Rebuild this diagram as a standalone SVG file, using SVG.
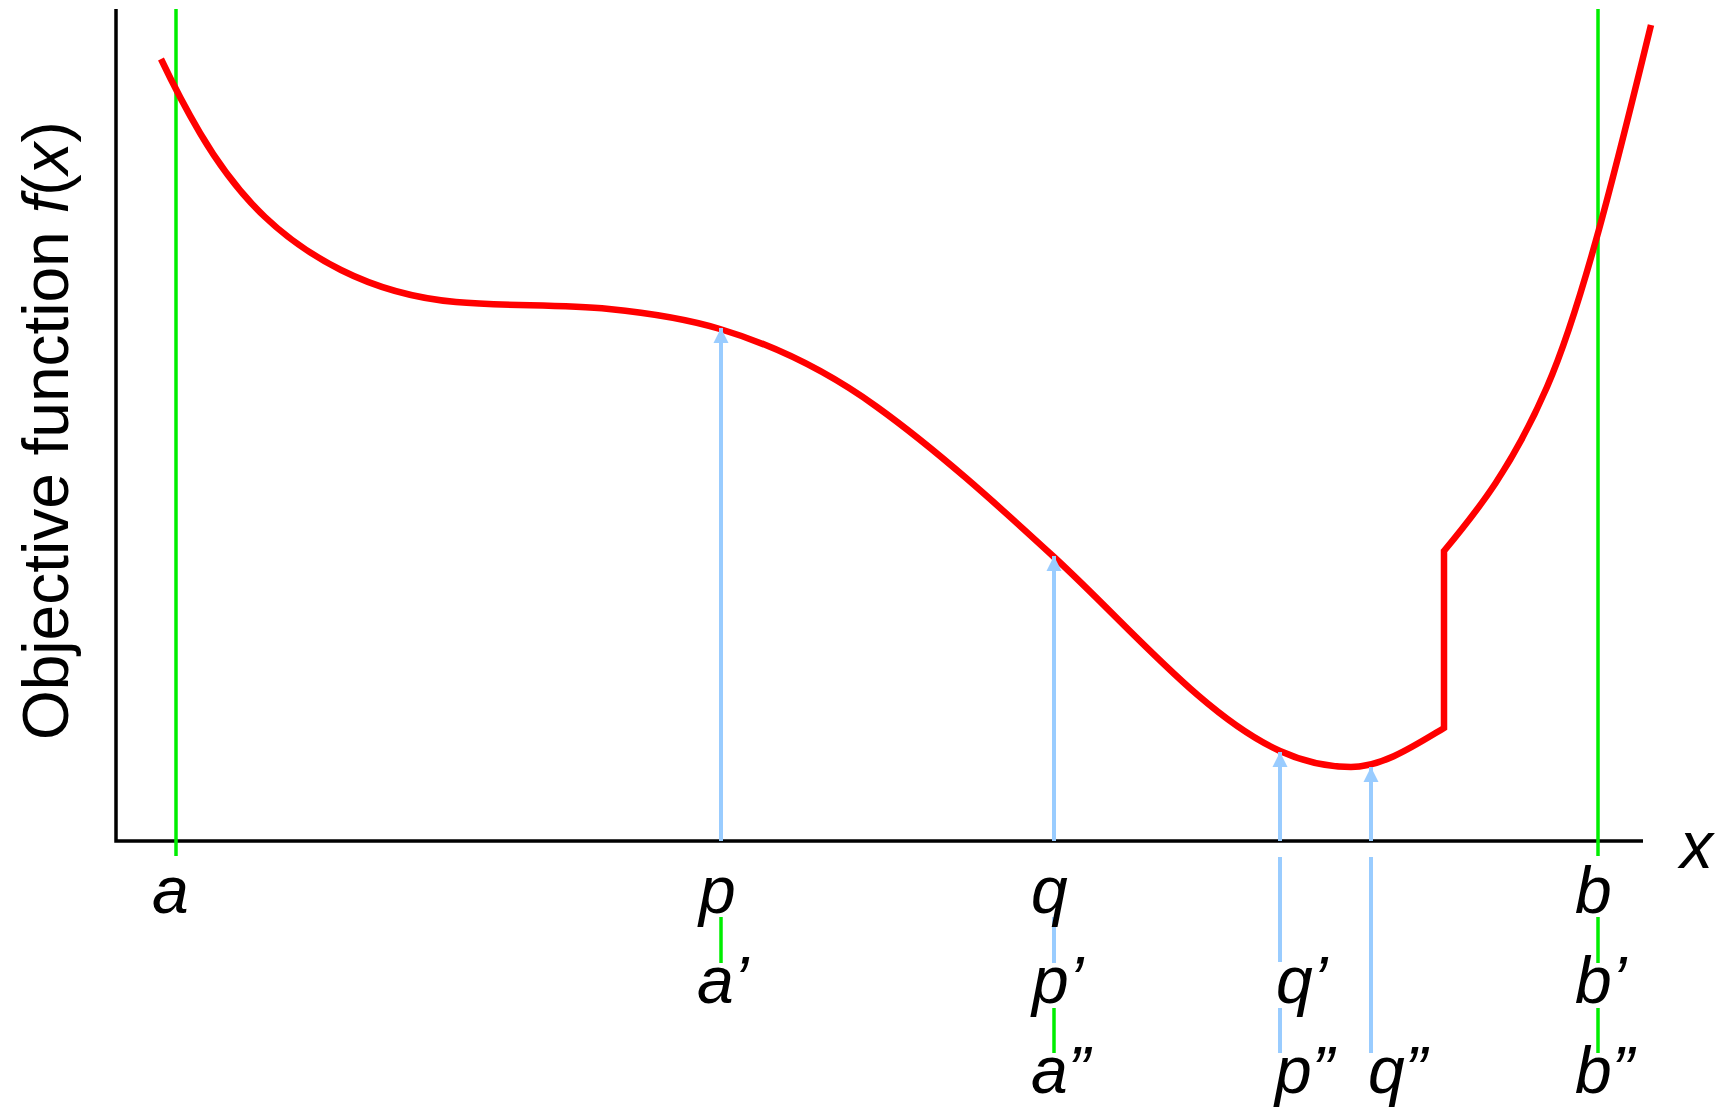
<svg xmlns="http://www.w3.org/2000/svg" width="1720" height="1109" viewBox="0 0 1720 1109">
<style>
.lbl{font-family:"Liberation Sans",Arial,sans-serif;font-size:66px;font-style:italic;fill:#000}
.axis{stroke:#000;stroke-width:3.5;fill:none}
.green{stroke:#00ee00;stroke-width:3.5;fill:none}
.blue{stroke:#99ccff;stroke-width:4;fill:none}
.curve{stroke:#ff0000;stroke-width:6.5;fill:none;stroke-linejoin:miter}
</style>
<defs>
<marker id="ah" markerUnits="userSpaceOnUse" markerWidth="16" markerHeight="16" viewBox="0 0 16 16" refX="15" refY="8" orient="auto">
<path d="M0,0.5 L15,8 L0,15.5 z" fill="#99ccff"/>
</marker>
</defs>
<rect width="1720" height="1109" fill="#fff"/>
<g id="axes">
<path class="axis" d="M116,9 V841 H1643"/>
<text class="lbl" x="1680" y="868">x</text>
<text x="0" y="0" transform="translate(68,740) rotate(-90)" style="font-family:'Liberation Sans',Arial,sans-serif;font-size:64px;fill:#000">Objective function <tspan font-style="italic">f</tspan>(<tspan font-style="italic">x</tspan>)</text>
</g>
<g id="bounds">
<line class="green" x1="176" y1="9" x2="176" y2="856"/>
<line class="green" x1="1598" y1="9" x2="1598" y2="856"/>
</g>
<g id="objective-curve">
<path class="curve" d="M161,59 C174,86.3 187,110.9 200,133 C221.7,169.8 243.3,196.4 265,217 C290.3,241.1 315.7,257.3 341,270 C379.3,289.2 417.7,298.6 456,302 C507,306.6 558,303.9 609,309 C646,312.7 683,317.9 720,329 C772.3,344.7 824.7,369.3 877,407 C936,449.5 995,502.7 1054,557 C1129.3,626.3 1204.7,717.1 1280,751 C1303.7,761.7 1327.3,767 1351,767 C1382,767 1413,746.6 1444,728 L1444,551 C1478.3,509.8 1512.7,466 1547,387 C1581.7,307.3 1616.3,167.1 1651,25"/>
</g>
<g id="connectors">
<line class="blue" x1="721" y1="841" x2="721" y2="328" marker-end="url(#ah)"/>
<line class="blue" x1="1054" y1="841" x2="1054" y2="556" marker-end="url(#ah)"/>
<line class="blue" x1="1280" y1="841" x2="1280" y2="752" marker-end="url(#ah)"/>
<line class="blue" x1="1371" y1="841" x2="1371" y2="767" marker-end="url(#ah)"/>
<line class="green" x1="721" y1="917" x2="721" y2="963"/>
<line class="blue" x1="1054" y1="917" x2="1054" y2="963"/>
<line class="green" x1="1054" y1="1008" x2="1054" y2="1053"/>
<line class="blue" x1="1280" y1="857" x2="1280" y2="962"/>
<line class="blue" x1="1280" y1="1008" x2="1280" y2="1053"/>
<line class="blue" x1="1371" y1="857" x2="1371" y2="1053"/>
<line class="green" x1="1598" y1="917" x2="1598" y2="963"/>
<line class="green" x1="1598" y1="1008" x2="1598" y2="1053"/>
</g>
<g id="labels">
<g id="a"><text class="lbl" x="152" y="913">a</text></g>
<g id="p"><text class="lbl" x="699" y="913">p</text></g>
<g id="a1"><text class="lbl" x="697" y="1003">a’</text></g>
<g id="q"><text class="lbl" x="1031" y="913">q</text></g>
<g id="p1"><text class="lbl" x="1032" y="1003">p’</text></g>
<g id="a2"><text class="lbl" x="1031" y="1093">a”</text></g>
<g id="q1"><text class="lbl" x="1276" y="1003">q’</text></g>
<g id="p2"><text class="lbl" x="1275" y="1093">p”</text></g>
<g id="q2"><text class="lbl" x="1368" y="1093">q”</text></g>
<g id="b"><text class="lbl" x="1575" y="913">b</text></g>
<g id="b1"><text class="lbl" x="1575" y="1003">b’</text></g>
<g id="b2"><text class="lbl" x="1575" y="1093">b”</text></g>
</g>
</svg>
